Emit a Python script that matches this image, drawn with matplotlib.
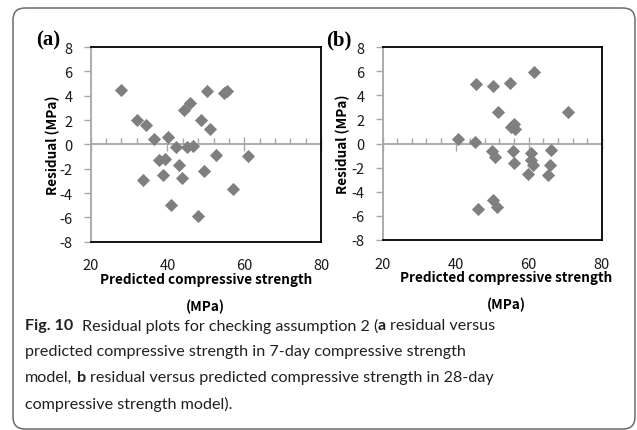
import matplotlib
matplotlib.use("Agg")
import matplotlib.pyplot as plt
from matplotlib.patches import FancyBboxPatch
from matplotlib.ticker import MultipleLocator
from matplotlib.transforms import IdentityTransform

plt.rcParams["axes.unicode_minus"] = False

# 7-day model: predicted strength (MPa) and residual (MPa)
pred_7 = [27.8, 32.0, 34.3, 36.4, 40.2, 37.7, 39.4, 42.2, 44.4, 45.9, 45.2, 46.7, 43.0, 33.7,
          38.8, 43.7, 48.7, 51.0, 50.4, 54.6, 55.6, 52.6, 49.6, 61.1, 57.0, 40.9, 48.0]
resid_7 = [4.5, 2.0, 1.6, 0.4, 0.6, -1.3, -1.2, -0.2, 2.85, 3.4, -0.25, -0.15, -1.7, -2.95,
           -2.5, -2.8, 2.0, 1.25, 4.4, 4.2, 4.35, -0.9, -2.2, -0.95, -3.65, -4.95, -5.85]

# 28-day model
pred_28 = [40.7, 45.3, 45.6, 50.1, 54.8, 61.5, 51.6, 70.9, 55.2, 56.0, 56.3, 50.0, 50.9,
           55.8, 56.1, 60.7, 60.5, 61.2, 59.8, 66.1, 65.8, 65.3, 46.2, 50.3, 51.2]
resid_28 = [0.4, 0.15, 4.9, 4.75, 5.0, 5.9, 2.6, 2.6, 1.35, 1.6, 1.2, -0.6, -1.1,
            -0.65, -1.6, -0.8, -1.4, -1.75, -2.55, -0.5, -1.8, -2.65, -5.4, -4.65, -5.25]

panel_tags = ["(a)", "(b)"]
x_label = "Predicted compressive strength\n(MPa)"
y_label = "Residual (MPa)"

caption_lines = [
    [("Fig. 10", "bold"), ("  Residual plots for checking assumption 2 (", "normal"),
     ("a", "bold"), (" residual versus", "normal")],
    [("predicted compressive strength in 7-day compressive strength", "normal")],
    [("model, ", "normal"), ("b", "bold"),
     (" residual versus predicted compressive strength in 28-day", "normal")],
    [("compressive strength model).", "normal")],
]

tick_font = ["Noto Sans CJK KR", "DejaVu Sans"]
cap_font = ["Lato", "DejaVu Sans"]
axis_grey = "#a6a6a6"
marker_grey = "#7f7f7f"

W, H = 637, 431
fig = plt.figure(figsize=(W / 100, H / 100), dpi=100)

# rounded outer frame
frame = FancyBboxPatch((13, 1), 622, 421, boxstyle="round,pad=0,rounding_size=12",
                       transform=IdentityTransform(), facecolor="none",
                       edgecolor="#6b6b6b", linewidth=1.1)
fig.patches.append(frame)


def residual_panel(rect, xs, ys, tag, tag_xy, xlab_x, ylab_x):
    ax = fig.add_axes(rect)
    ax.scatter(xs, ys, marker="D", s=45, color=marker_grey, linewidths=0, zorder=3)
    ax.set_xlim(20, 80)
    ax.set_ylim(-8, 8)
    ax.xaxis.set_major_locator(MultipleLocator(20))
    ax.yaxis.set_major_locator(MultipleLocator(2))
    for side in ("top", "right", "bottom"):
        ax.spines[side].set_color("black")
        ax.spines[side].set_linewidth(1.3)
    ax.spines["left"].set_color(axis_grey)
    ax.spines["left"].set_linewidth(1.3)
    ax.tick_params(axis="x", length=0, pad=12, labelsize=10.5, labelcolor="#1a1a1a")
    ax.tick_params(axis="y", direction="out", length=5, width=1, color=axis_grey,
                   pad=8, labelsize=10.5, labelcolor="#1a1a1a")
    for lab in ax.get_xticklabels() + ax.get_yticklabels():
        lab.set_family(tick_font)

    # horizontal axis line through zero with its tick marks
    zero = ax.secondary_xaxis(0.5)
    zero.set_alignment("bottom")
    zero.spines["bottom"].set_color(axis_grey)
    zero.spines["bottom"].set_linewidth(1.3)
    zero.xaxis.set_major_locator(MultipleLocator(20))
    zero.xaxis.set_minor_locator(MultipleLocator(4))
    zero.tick_params(which="major", direction="inout", length=10, width=1, color=axis_grey,
                     labelbottom=False)
    zero.tick_params(which="minor", direction="in", length=4, width=1, color=axis_grey)
    zero.set_zorder(1)

    ax.set_xlabel(x_label, fontsize=9.7, fontweight="bold", family=tick_font, linespacing=2.15)
    ax.xaxis.set_label_coords(xlab_x, -0.155)
    ax.set_ylabel(y_label, fontsize=9.7, fontweight="bold", family=tick_font)
    ax.yaxis.set_label_coords(ylab_x, 0.5)
    fig.text(tag_xy[0], tag_xy[1], tag, transform=IdentityTransform(), fontsize=15,
             fontweight="bold", family="Liberation Serif", va="center")
    return ax


residual_panel([90.7 / W, 1 - 242.7 / H, 230.3 / W, 194.7 / H], pred_7, resid_7,
               panel_tags[0], (36, H - 40), 0.5, -0.133)
residual_panel([382.7 / W, 1 - 241 / H, 219 / W, 193 / H], pred_28, resid_28,
               panel_tags[1], (326, H - 40), 0.563, -0.149)

# caption with bold runs placed word by word
renderer = fig.canvas.get_renderer()
cap_size = 11.6
probe_a = fig.text(0, 0, "x x", fontsize=cap_size, family=cap_font)
probe_b = fig.text(0, 0, "xx", fontsize=cap_size, family=cap_font)
space_w = probe_a.get_window_extent(renderer).width - probe_b.get_window_extent(renderer).width
probe_a.remove()
probe_b.remove()

line_y = [105, 79, 53, 27]
for runs, y in zip(caption_lines, line_y):
    x = 25
    for text, weight in runs:
        x += (len(text) - len(text.lstrip(" "))) * space_w
        core = text.strip(" ")
        t = fig.text(x, y, core, transform=IdentityTransform(), fontsize=cap_size,
                     fontweight=weight, family=cap_font, va="center", color="#231f20")
        x += t.get_window_extent(renderer).width
        x += (len(text) - len(text.rstrip(" "))) * space_w

fig.savefig("out.png", dpi=100)
